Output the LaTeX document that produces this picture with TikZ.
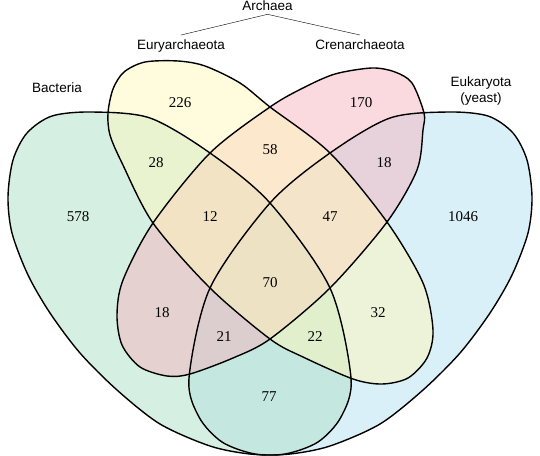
\documentclass[tikz,border=0pt]{standalone}
\usepackage{fontspec}
\setmainfont{Liberation Serif}
\setsansfont{Liberation Sans}

\definecolor{bactfill}{RGB}{179,226,204}
\definecolor{euryfill}{RGB}{255,247,187}
\definecolor{crenfill}{RGB}{245,181,191}
\definecolor{eukfill}{RGB}{181,225,241}

% outlines of the four sets (picture units: 1pt, y down)
\newcommand\bactpath{plot[smooth cycle] coordinates {(92,112) (150,118) (210,153) (270,203) (330,288) (351,378) (341,417) (318,442) (285,454) (250,454) (210,446) (160,424) (117,390) (80,353) (50,313) (28,275) (12,233) (8,197) (13,160) (27,133) (52,116)}}
\newcommand\eukpath{plot[smooth cycle] coordinates {(448,112) (390,118) (330,153) (270,203) (210,288) (189,378) (199,417) (222,442) (255,454) (290,454) (330,446) (380,424) (423,390) (460,353) (490,313) (512,275) (528,233) (532,197) (527,160) (513,133) (488,116)}}
\newcommand\eurypath{plot[smooth cycle] coordinates {(145,62) (178,61) (205,66) (240,83) (270,107) (330,153) (387,222) (423,283) (433,330) (427,358) (408,378) (382,384) (353,379) (303,357) (270,339) (210,288) (153,223) (122,163) (110,135) (108,113) (113,89) (124,72)}}
\newcommand\crenpath{plot[smooth cycle] coordinates {(372,68) (395,72) (412,83) (424,113) (423,130) (417,170) (387,222) (330,288) (270,339) (233,358) (190,374) (167,376) (140,367) (122,345) (117,315) (123,280) (153,223) (210,153) (270,107) (303,88) (335,74)}}

\begin{document}
\begin{tikzpicture}[x=1pt, y=-1pt,
    count/.style={font=\fontsize{15}{17}\selectfont},
    taxon/.style={font=\sffamily\fontsize{13.5}{15.5}\selectfont, align=center, inner sep=4pt},
    setline/.style={line width=1.4pt}]
  \useasboundingbox (0,0) rectangle (540,455);

  % fills, bottom to top
  \fill[eukfill, fill opacity=0.5] \eukpath;
  \fill[bactfill, fill opacity=0.55] \bactpath;
  \fill[crenfill, fill opacity=0.5] \crenpath;
  \fill[euryfill, fill opacity=0.5] \eurypath;

  \draw[setline] \eukpath;
  \draw[setline] \bactpath;
  \draw[setline] \crenpath;
  \draw[setline] \eurypath;

  % set names
  \node(archaea) at (267.5,10) [taxon, anchor=base] {Archaea};
  \node(eury) at (181,49) [taxon, anchor=base] {Euryarchaeota};
  \node(cren) at (360,49) [taxon, anchor=base] {Crenarchaeota};
  \node(bact) at (57,92) [taxon, anchor=base] {Bacteria};
  \node(euk) at (481,91) [taxon] {Eukaryota\\(yeast)};
  \draw[thin] (archaea.south) -- (eury.north);
  \draw[thin] (archaea.south) -- (cren.north);

  % counts
  \node(n226) at (180,103) [count] {226};
  \node(n170) at (361,103) [count] {170};
  \node(n28) at (156,163) [count] {28};
  \node(n58) at (270,150) [count] {58};
  \node(n18a) at (384,163) [count] {18};
  \node(n578) at (78,217) [count] {578};
  \node(n12) at (210,217) [count] {12};
  \node(n47) at (330,217) [count] {47};
  \node(n1046) at (463,217) [count] {1046};
  \node(n70) at (270,283) [count] {70};
  \node(n18b) at (162,313) [count] {18};
  \node(n32) at (378,313) [count] {32};
  \node(n21) at (224,337) [count] {21};
  \node(n22) at (315,337) [count] {22};
  \node(n77) at (269,397) [count] {77};
\end{tikzpicture}
\end{document}
